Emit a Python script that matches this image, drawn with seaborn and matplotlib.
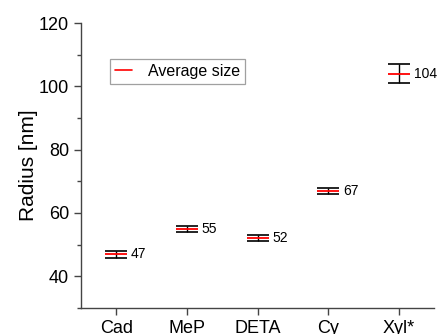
import numpy as np
import pandas as pd
import matplotlib
matplotlib.use('Agg')
import matplotlib.pyplot as plt
import seaborn as sns
from matplotlib.ticker import MultipleLocator

# values
samples = ['Cad', 'MeP', 'DETA', 'Cy', 'Xyl*']
radius = [47, 55, 52, 67, 104]
radius_err = [1.1, 1.0, 1.0, 1.0, 3.0]
labels = ['47', '55', '52', '67', '104']

df = pd.DataFrame({'sample': samples, 'radius': radius, 'err': radius_err})

sns.set_style('ticks')
plt.rcParams['font.family'] = ['Liberation Sans', 'DejaVu Sans']
plt.rcParams['text.color'] = 'black'
plt.rcParams['axes.labelcolor'] = 'black'
plt.rcParams['xtick.color'] = 'black'
plt.rcParams['ytick.color'] = 'black'

fig = plt.figure(figsize=(4.39, 3.34), dpi=100)
ax = fig.add_axes([0.1845, 0.078, 0.805, 0.853])

xpos = np.arange(len(samples))
ax.errorbar(xpos, df['radius'], yerr=df['err'], fmt='none', ecolor='black',
            elinewidth=1.0, capsize=8, capthick=1.2, zorder=2)
sns.scatterplot(data=df, x='sample', y='radius', marker='_', s=230, color='red',
                linewidth=1.3, ax=ax, zorder=3, legend=False)

for x, y, t in zip(xpos, df['radius'], labels):
    ax.annotate(t, (x, y), xytext=(10.5, 0), textcoords='offset points',
                va='center', ha='left', fontsize=10, color='black')

ax.set_xlim(-0.5, 4.5)
ax.set_ylim(30, 120)
ax.yaxis.set_major_locator(MultipleLocator(20))
ax.yaxis.set_minor_locator(MultipleLocator(10))
ax.set_xticks(xpos)
ax.set_xticklabels(samples)
ax.set_xlabel('')
ax.set_ylabel('Radius [nm]', fontsize=15, labelpad=1)
ax.tick_params(axis='both', labelsize=13, direction='out', length=5, width=1,
               color='#444444', labelcolor='black')
ax.tick_params(axis='y', which='minor', length=3, width=1, color='#444444')
for s in ['top', 'right']:
    ax.spines[s].set_visible(False)
for s in ['left', 'bottom']:
    ax.spines[s].set_color('#444444')
    ax.spines[s].set_linewidth(1)

handle = plt.Line2D([], [], color='red', linewidth=1.2)
leg = ax.legend([handle], ['Average size'], loc='upper left', bbox_to_anchor=(0.082, 0.874),
                fontsize=11.5, frameon=True, fancybox=False, edgecolor='#888888',
                handlelength=1.06, handletextpad=1.0, borderpad=0.3, borderaxespad=0)
leg.get_frame().set_linewidth(0.9)
for t in leg.get_texts():
    t.set_color('black')

fig.savefig('out.png', dpi=100)
